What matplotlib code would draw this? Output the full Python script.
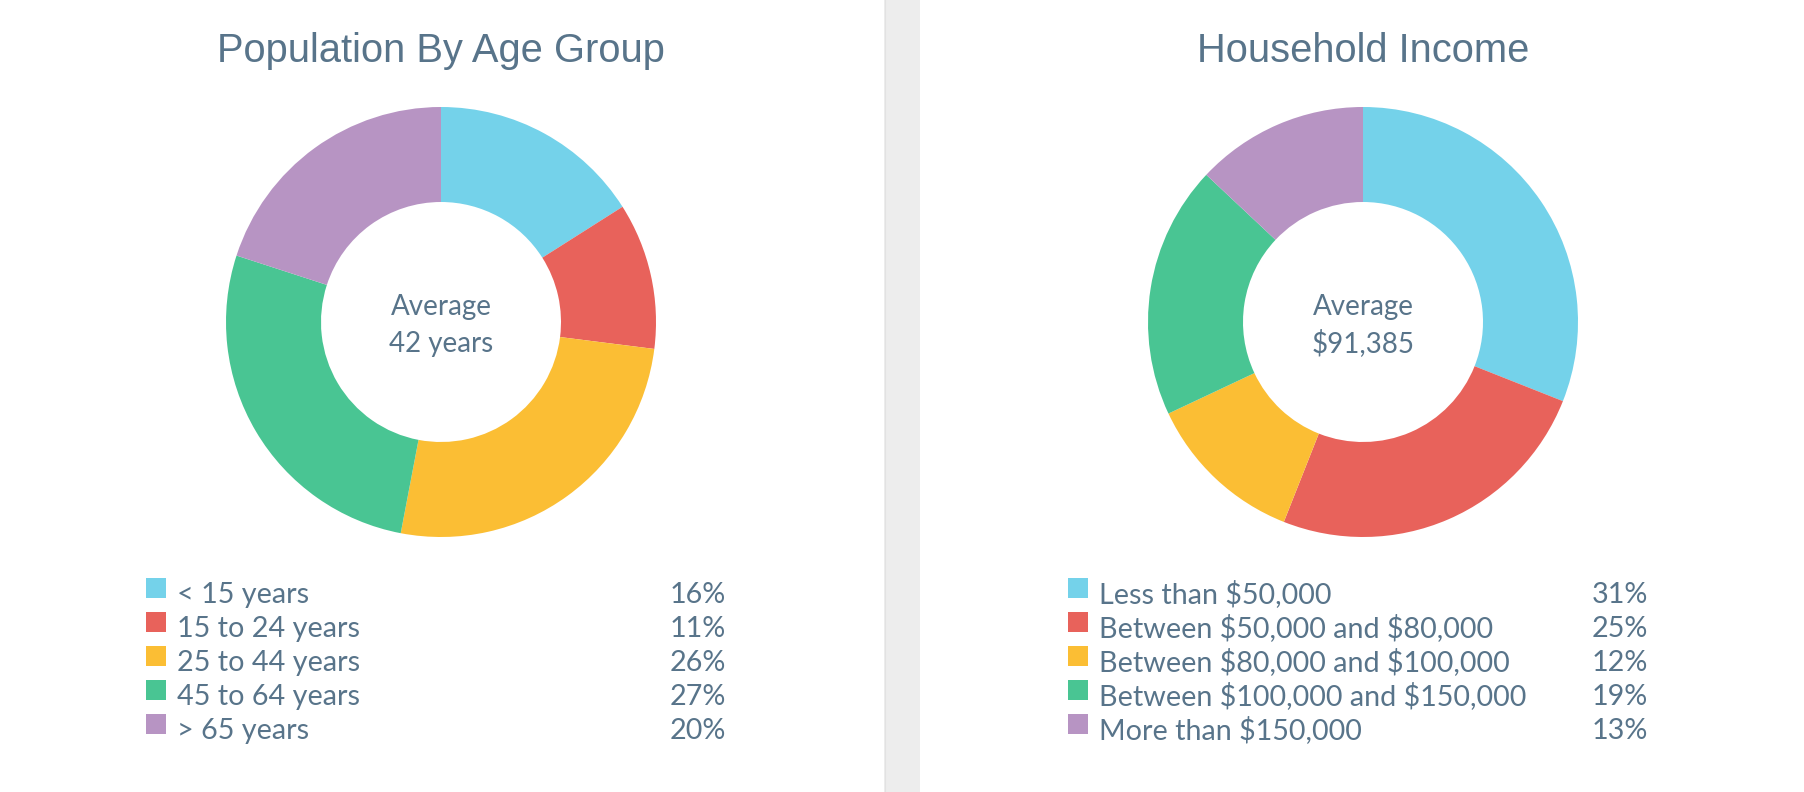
import matplotlib
matplotlib.use("Agg")
import matplotlib.pyplot as plt
from matplotlib.patches import Rectangle

# chart data
colors = ['#74d2ea', '#e8625b', '#fbbe34', '#49c593', '#b794c3']

age_title = "Population By Age Group"
age_labels = ['< 15 years', '15 to 24 years', '25 to 44 years', '45 to 64 years', '> 65 years']
age_values = [16, 11, 26, 27, 20]
age_center = ['Average', '42 years']

income_title = "Household Income"
income_labels = ['Less than $50,000', 'Between $50,000 and $80,000', 'Between $80,000 and $100,000',
                 'Between $100,000 and $150,000', 'More than $150,000']
income_values = [31, 25, 12, 19, 13]
income_center = ['Average', '$91,385']

W, H = 1804, 792
text_color = '#58748a'


def put(bg, x, y, s, size, ha='left', family='Lato'):
    # parse_math off so the dollar signs stay literal
    bg.text(x, y, s, ha=ha, va='baseline', fontsize=size, family=family,
            color=text_color, parse_math=False)


def draw_panel(fig, bg, cx, title, labels, values, center, sq_x, pct_right):
    # donut, placed by its pixel box
    r = 215
    cy = 322
    ax = fig.add_axes([(cx - r) / W, (H - cy - r) / H, 2 * r / W, 2 * r / H])
    ax.pie(values, colors=colors, startangle=90, counterclock=False,
           radius=1, wedgeprops=dict(width=1 - 120 / 215, linewidth=0))
    ax.set_xlim(-1, 1)
    ax.set_ylim(-1, 1)
    ax.axis('off')

    put(bg, cx, 62, title, 28.7, ha='center', family='Liberation Sans')
    put(bg, cx, 315, center[0], 20, ha='center')
    put(bg, cx, 352, center[1], 20, ha='center')

    # legend rows
    for i, (lab, val) in enumerate(zip(labels, values)):
        base = 603 + 34 * i
        bg.add_patch(Rectangle((sq_x, base - 25), 20, 20, color=colors[i], lw=0))
        put(bg, sq_x + 31, base, lab, 20.7)
        put(bg, pct_right, base, f'{val}%', 20.7, ha='right')


fig = plt.figure(figsize=(W / 100, H / 100), dpi=100)
fig.patch.set_facecolor('white')

bg = fig.add_axes([0, 0, 1, 1])
bg.set_xlim(0, W)
bg.set_ylim(H, 0)
bg.axis('off')

# grey divider between the two panels
bg.add_patch(Rectangle((884, 0), 36, H, color='#ededed', lw=0))
bg.plot([884.5, 884.5], [0, H], color='#e2e2e2', lw=0.8)

draw_panel(fig, bg, 441, age_title, age_labels, age_values, age_center, 146, 726)
draw_panel(fig, bg, 1363, income_title, income_labels, income_values, income_center, 1068, 1648)

plt.savefig('out.png', dpi=100, facecolor='white')
